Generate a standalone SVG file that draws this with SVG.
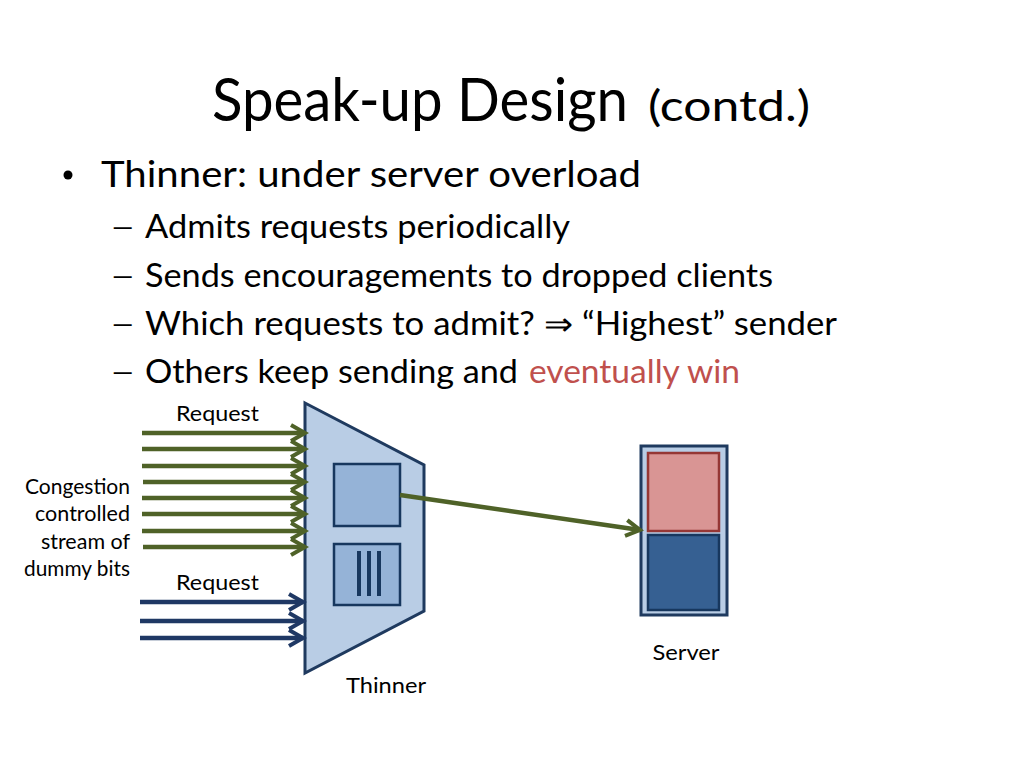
<svg xmlns="http://www.w3.org/2000/svg" width="1024" height="768" viewBox="0 0 1024 768">
<defs>
<style>
text{font-family:Lato,"Open Sans","Liberation Sans",sans-serif;fill:#000}
.title{font-size:60px}
.sub{font-size:42px}
.l1{font-size:36px}
.l2{font-size:32px}
.dsh{font-size:27px}
.lab{font-size:22px}
.small{font-size:21px;text-anchor:end}
.g{stroke:#4f6228;stroke-width:4.5;fill:none}
.b{stroke:#1f3864;stroke-width:4.5;fill:none}
.box{fill:#95b3d7;stroke:#17375e;stroke-width:2.5}
</style>
<marker id="ag" markerUnits="userSpaceOnUse" markerWidth="20" markerHeight="22" refX="16" refY="10" orient="auto" viewBox="0 0 20 20">
<path d="M2,2 L16,10 L2,18" fill="none" stroke="#4f6228" stroke-width="4"/>
</marker>
<marker id="ab" markerUnits="userSpaceOnUse" markerWidth="20" markerHeight="22" refX="16" refY="10" orient="auto" viewBox="0 0 20 20">
<path d="M2,2 L16,10 L2,18" fill="none" stroke="#1f3864" stroke-width="4"/>
</marker>
</defs>
<rect width="1024" height="768" fill="#fff"/>
<g id="title">
<text class="title" x="212" y="121" textLength="416" lengthAdjust="spacingAndGlyphs">Speak-up Design</text>
<text class="sub" x="648" y="121" textLength="162" lengthAdjust="spacingAndGlyphs">(contd.)</text>
</g>
<g id="bullets">
<circle cx="68" cy="175" r="4.5" fill="#000"/>
<text class="l1" x="101" y="187" textLength="540" lengthAdjust="spacingAndGlyphs">Thinner: under server overload</text>
<text class="l2 dsh" x="112" y="236">—</text>
<text class="l2" x="145" y="238" textLength="425" lengthAdjust="spacingAndGlyphs">Admits requests periodically</text>
<text class="l2 dsh" x="112" y="285">—</text>
<text class="l2" x="145" y="287" textLength="628" lengthAdjust="spacingAndGlyphs">Sends encouragements to dropped clients</text>
<text class="l2 dsh" x="112" y="333">—</text>
<text class="l2" x="145" y="335" textLength="692" lengthAdjust="spacingAndGlyphs">Which requests to admit? ⇒ “Highest” sender</text>
<text class="l2 dsh" x="112" y="381">—</text>
<text class="l2" x="145" y="383" textLength="373" lengthAdjust="spacingAndGlyphs">Others keep sending and</text>
<text class="l2" x="529" y="383" textLength="211" lengthAdjust="spacingAndGlyphs" style="fill:#c0504d">eventually win</text>
</g>
<g id="labels">
<text class="lab" x="176" y="421" textLength="83" lengthAdjust="spacingAndGlyphs">Request</text>
<text class="lab" x="176" y="590" textLength="83" lengthAdjust="spacingAndGlyphs">Request</text>
<text class="small" x="130" y="494" textLength="105" lengthAdjust="spacingAndGlyphs">Congestion</text>
<text class="small" x="130" y="521" textLength="95" lengthAdjust="spacingAndGlyphs">controlled</text>
<text class="small" x="130" y="549" textLength="89" lengthAdjust="spacingAndGlyphs">stream of</text>
<text class="small" x="130" y="576" textLength="106" lengthAdjust="spacingAndGlyphs">dummy bits</text>
</g>
<g id="thinner">
<path d="M305,403 L424,465 L424,611 L305,673 Z" fill="#b9cde5" stroke="#1f3a5f" stroke-width="3"/>
<rect class="box" x="334" y="464" width="66" height="62"/>
<rect class="box" x="334" y="544" width="66" height="61"/>
<g stroke="#17375e" stroke-width="4">
<line x1="359" y1="551" x2="359" y2="596"/>
<line x1="369" y1="551" x2="369" y2="596"/>
<line x1="379" y1="551" x2="379" y2="596"/>
</g>
<text class="lab" x="386" y="693" text-anchor="middle" textLength="80" lengthAdjust="spacingAndGlyphs">Thinner</text>
</g>
<g id="server">
<rect x="641" y="446" width="86" height="169" fill="#b9cde5" stroke="#1f3a5f" stroke-width="3"/>
<rect x="648" y="453" width="71" height="78" fill="#d99594" stroke="#953735" stroke-width="2.5"/>
<rect x="648" y="535" width="71" height="75" fill="#366092" stroke="#17375e" stroke-width="2.5"/>
<text class="lab" x="686" y="660" text-anchor="middle" textLength="67" lengthAdjust="spacingAndGlyphs">Server</text>
</g>
<g id="connectors">
<line class="g" x1="142" y1="433" x2="305" y2="433" marker-end="url(#ag)"/>
<line class="g" x1="142" y1="449" x2="305" y2="449" marker-end="url(#ag)"/>
<line class="g" x1="142" y1="466" x2="305" y2="466" marker-end="url(#ag)"/>
<line class="g" x1="143" y1="482" x2="305" y2="482" marker-end="url(#ag)"/>
<line class="g" x1="142" y1="498" x2="305" y2="498" marker-end="url(#ag)"/>
<line class="g" x1="142" y1="514" x2="305" y2="514" marker-end="url(#ag)"/>
<line class="g" x1="142" y1="531" x2="305" y2="531" marker-end="url(#ag)"/>
<line class="g" x1="143" y1="547" x2="305" y2="547" marker-end="url(#ag)"/>
<line class="b" x1="140" y1="602" x2="303" y2="602" marker-end="url(#ab)"/>
<line class="b" x1="140" y1="621" x2="303" y2="621" marker-end="url(#ab)"/>
<line class="b" x1="140" y1="638" x2="303" y2="638" marker-end="url(#ab)"/>
<line class="g" x1="400" y1="495" x2="640" y2="530" marker-end="url(#ag)"/>
</g>
</svg>
